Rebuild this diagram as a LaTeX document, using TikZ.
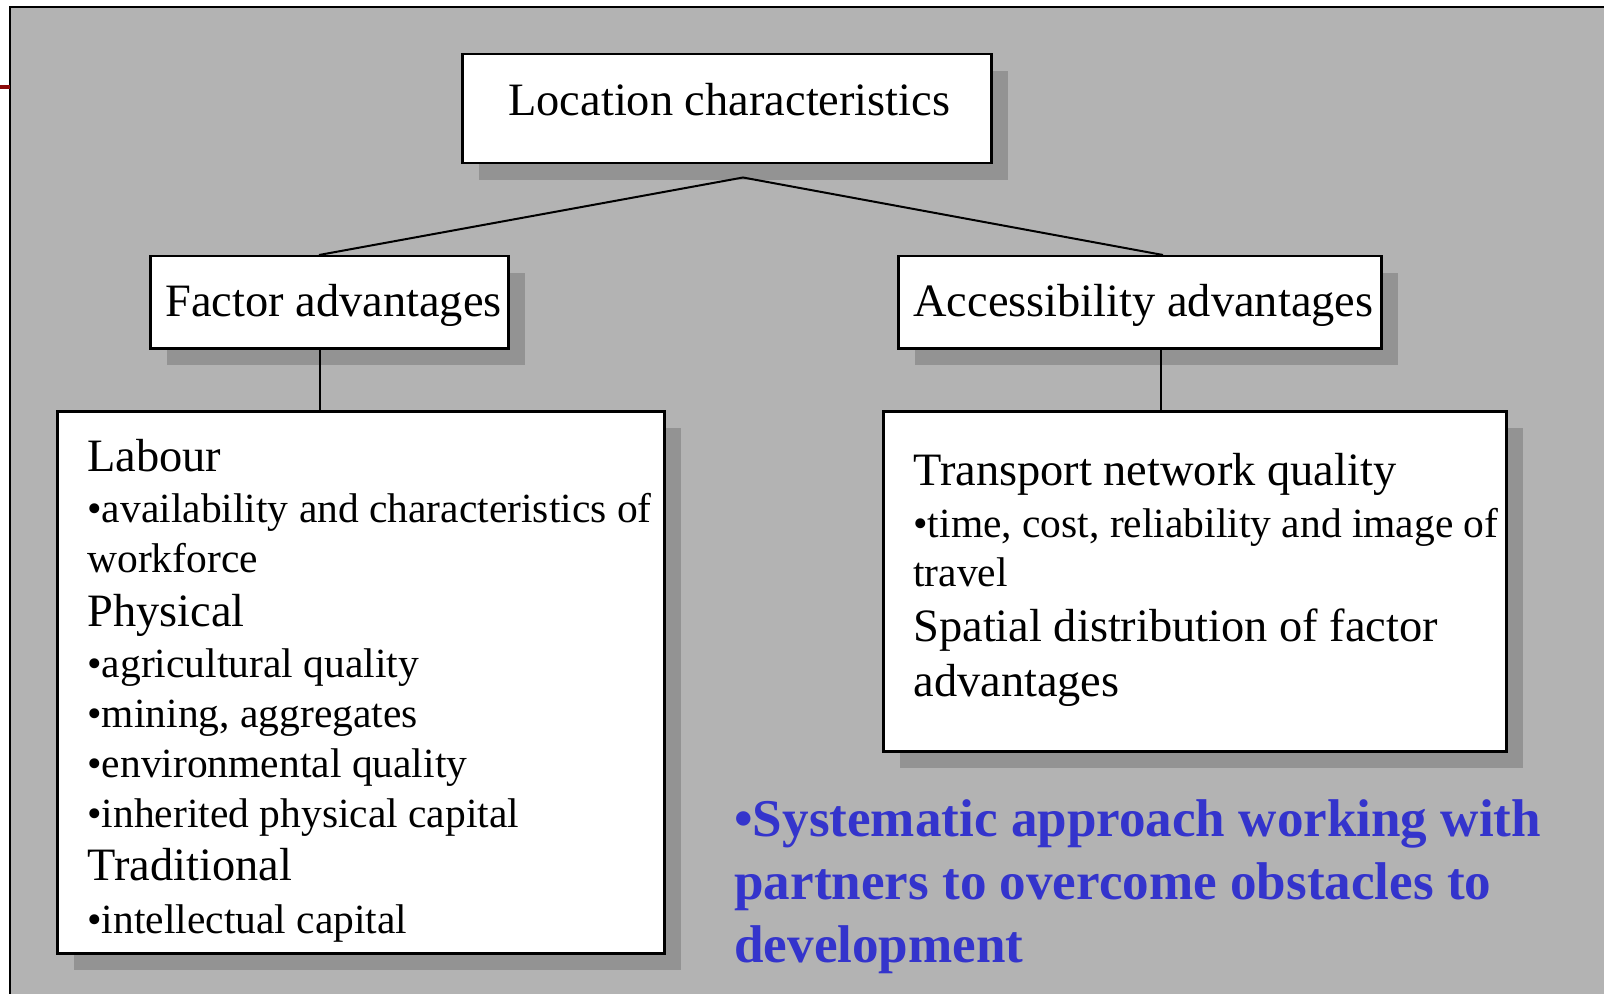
\documentclass[tikz,border=0pt]{standalone}
\usepackage{fontspec}
\setmainfont{Liberation Serif}
\usetikzlibrary{shadows,calc}
\definecolor{bgc}{HTML}{B3B3B3}
\definecolor{shadowc}{HTML}{939393}
\definecolor{bluet}{HTML}{3434CC}
\definecolor{redline}{HTML}{8B0A0A}
\begin{document}
\begin{tikzpicture}[x=0.5pt,y=-0.5pt,
  boxst/.style={draw=black, line width=1.25pt, fill=white, inner sep=0pt, anchor=north west,
    drop shadow={shadow xshift=8.5pt, shadow yshift=-8.5pt, fill=shadowc, opacity=1}},
  head/.style={anchor=base west, inner sep=0pt, font=\fontsize{23.2}{27}\selectfont},
  item/.style={anchor=base west, inner sep=0pt, font=\fontsize{20.75}{25}\selectfont},
  bluetxt/.style={anchor=base west, inner sep=0pt, text=bluet, font=\fontsize{26.55}{31}\selectfont\bfseries},
  conn/.style={draw=black, line width=1pt}]
\useasboundingbox (0,0) rectangle (1604,994);
\fill[bgc] (10,7) rectangle (1604,994);
\draw[black, line width=1pt] (10,994) -- (10,7) -- (1604,7);
\draw[redline, line width=2pt] (0,87) -- (10,87);

% boxes
\node[boxst, minimum width=264.5pt, minimum height=54.5pt] (top) at (461,53) {};
\node[boxst, minimum width=179pt, minimum height=46pt] (factor) at (149,255) {};
\node[boxst, minimum width=241.5pt, minimum height=46pt] (access) at (897,255) {};
\node[boxst, minimum width=303.5pt, minimum height=271pt] (labour) at (56,410) {};
\node[boxst, minimum width=311.5pt, minimum height=170pt] (transport) at (882,410) {};

% texts
\node[head] (ttop) at (508,116) {Location characteristics};
\node[head] (tfac) at (165,317) {Factor advantages};
\node[head] (tacc) at (913,317) {Accessibility advantages};

\node[head] (l1) at (87,471) {Labour};
\node[item] (l2) at (87,522) {•availability and characteristics of};
\node[item] (l3) at (87,572) {workforce};
\node[head] (l4) at (87,626) {Physical};
\node[item] (l5) at (87,677) {•agricultural quality};
\node[item] (l6) at (87,727) {•mining, aggregates};
\node[item] (l7) at (87,777) {•environmental quality};
\node[item] (l8) at (87,827) {•inherited physical capital};
\node[head] (l9) at (87,880) {Traditional};
\node[item] (l10) at (87,933) {•intellectual capital};

\node[head] (r1) at (913,485) {Transport network quality};
\node[item] (r2) at (913,537) {•time, cost, reliability and image of};
\node[item] (r3) at (913,586) {travel};
\node[head] (r4) at (913,641) {Spatial distribution of factor};
\node[head] (r5) at (913,696) {advantages};

\node[bluetxt] (b1) at (734,836) {•Systematic approach working with};
\node[bluetxt] (b2) at (734,899) {partners to overcome obstacles to};
\node[bluetxt] (b3) at (734,962) {development};

% connectors
\coordinate (apex) at ($(top.south west)+(282,13)$);
\coordinate (fjoin) at ($(factor.north west)+(170,0)$);
\coordinate (ajoin) at ($(access.north west)+(266,0)$);
\coordinate (fbot) at ($(factor.south west)+(171,0)$);
\coordinate (abot) at ($(access.south west)+(264,0)$);
\draw[conn] (fjoin) -- (apex) -- (ajoin);
\draw[conn] (fbot) -- (fbot |- labour.north);
\draw[conn] (abot) -- (abot |- transport.north);
\end{tikzpicture}
\end{document}
